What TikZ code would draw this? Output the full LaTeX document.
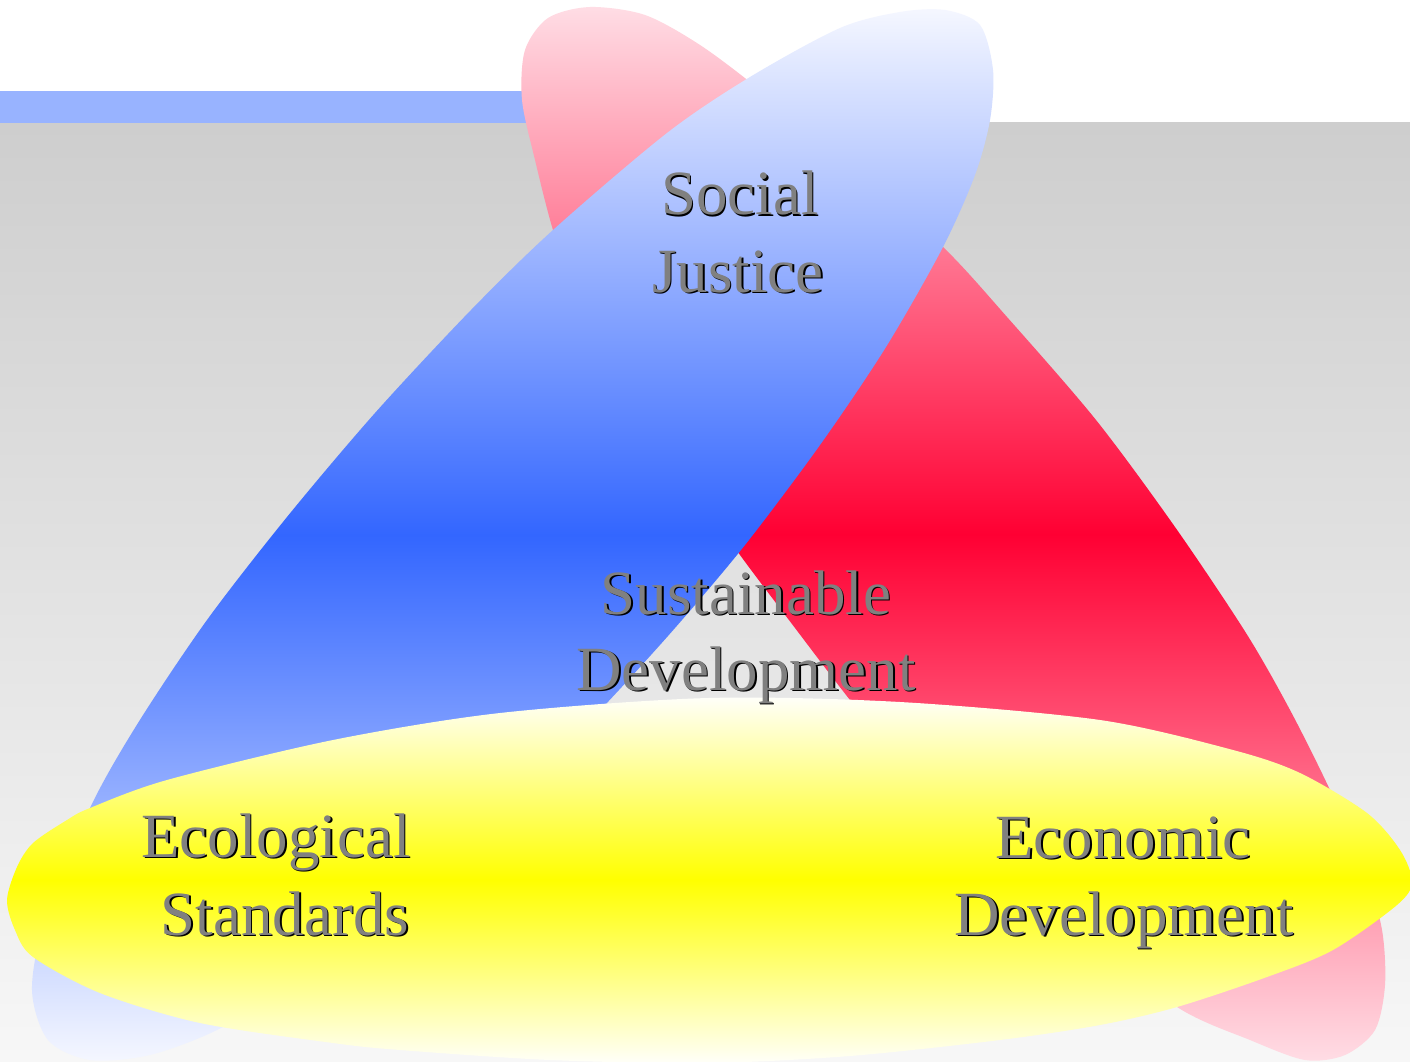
\documentclass[tikz,border=0pt]{standalone}
\usepackage{fontspec}
\setmainfont{Liberation Serif}
\usepackage{tikz}

\definecolor{barblue}{HTML}{98B3FF}
\definecolor{slidegray}{HTML}{CECECE}
\definecolor{slidelight}{HTML}{F7F7F7}
\definecolor{redlight}{HTML}{FFDDE5}
\definecolor{reddeep}{HTML}{FF0033}
\definecolor{bluelight}{HTML}{F5F7FF}
\definecolor{bluedeep}{HTML}{3366FF}
\definecolor{yellowlight}{HTML}{FFFFFA}
\definecolor{yellowdeep}{HTML}{FFFF00}
\definecolor{wordgray}{HTML}{808080}

\tikzset{
  word/.style={anchor=base, inner sep=0pt, text=wordgray,
    font=\fontsize{17.9}{22}\selectfont},
  wordshadow/.style={word, text=black, xshift=0.45pt, yshift=-0.45pt}
}

\begin{document}
\begin{tikzpicture}[x=0.01cm, y=-0.01cm]

\useasboundingbox (0,0) rectangle (1410,1061);

% Slide background
\fill[white] (0,0) rectangle (1410,1061);
\shade[top color=slidegray, bottom color=slidelight] (0,123) rectangle (1410,1061);
\fill[barblue] (0,91) rectangle (560,123);

% Red loop
\shade[top color=redlight, bottom color=redlight, middle color=reddeep]
  plot[smooth cycle] coordinates {
    (590,7) (645,15) (700,45) (760,90) (850,165) (943,247) (1007,317)
    (1096,420) (1175,527) (1246,633) (1290,710) (1330,790) (1365,870)
    (1382,930) (1385,985) (1375,1030) (1345,1055) (1305,1060) (1250,1040)
    (1177,1007) (1080,930) (980,830) (900,760) (850,700) (795,628)
    (740,555) (680,470) (620,370) (575,290) (553,230) (535,160) (522,100)
    (525,50) (548,18)};

% Blue loop
\shade[top color=bluelight, bottom color=bluelight, middle color=bluedeep]
  plot[smooth cycle] coordinates {
    (945,10) (980,25) (993,70) (990,120) (975,175) (943,247) (886,347)
    (820,445) (745,545) (675,628) (605,705) (500,815) (380,915) (280,990)
    (217,1030) (150,1055) (90,1060) (48,1040) (32,990) (45,920) (90,808)
    (138,723) (207,620) (287,517) (375,413) (471,310) (553,230) (667,133)
    (750,77) (840,28) (900,12)};

% Yellow loop
\shade[top color=yellowlight, bottom color=yellowlight, middle color=yellowdeep]
  plot[smooth cycle] coordinates {
    (7,900) (17,867) (33,843) (67,820) (90,808) (167,780) (333,740)
    (500,713) (708,698) (900,702) (1100,720) (1233,750) (1300,773)
    (1367,813) (1400,850) (1412,882) (1397,905) (1333,950) (1267,977)
    (1177,1007) (1100,1025) (1000,1040) (850,1056) (708,1063) (550,1060)
    (400,1050) (333,1043) (200,1023) (100,993) (33,957) (15,930)};

% Labels with drop shadow
\foreach \x/\y/\word/\nm in {740/215/Social/social, 738/292/Justice/justice,
  746/614/Sustainable/sustainable, 746/690/Development/development,
  276/857/Ecological/ecological, 285/935/Standards/standards,
  1123/858/Economic/economic, 1124/935/Development/econdev}
{
\node[wordshadow] (\nm-shadow) at (\x,\y) {\word};
\node[word] (\nm) at (\x,\y) {\word};
}

\end{tikzpicture}
\end{document}
